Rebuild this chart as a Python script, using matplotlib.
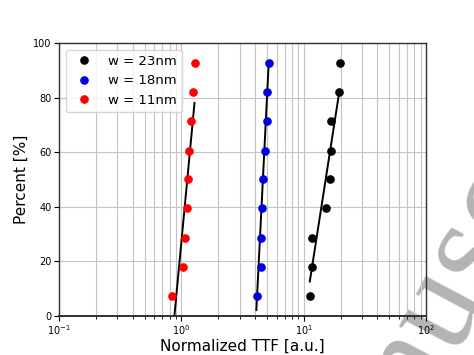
import matplotlib
matplotlib.use("Agg")
import matplotlib.pyplot as plt

# cumulative failure percent (median ranks), same for all widths
percent = [7.4, 18.1, 28.7, 39.4, 50.0, 60.6, 71.3, 81.9, 92.6]

# normalized time-to-failure
ttf_23 = [11.2, 11.6, 11.6, 15.1, 16.3, 16.6, 16.6, 19.5, 19.7]
ttf_18 = [4.16, 4.45, 4.49, 4.54, 4.62, 4.86, 4.98, 4.98, 5.17]
ttf_11 = [0.84, 1.03, 1.08, 1.11, 1.13, 1.16, 1.20, 1.24, 1.28]

# end points of the fitted lines
fit_23_x = [11.2, 19.5]
fit_23_y = [12.6, 82.0]
fit_18_x = [4.10, 5.17]
fit_18_y = [2.2, 92.6]
fit_11_x = [0.877, 1.28]
fit_11_y = [0.0, 78.0]

fig = plt.figure(figsize=(4.74, 3.55), dpi=100)
ax = fig.add_axes([0.1245, 0.110, 0.7745, 0.769])
ax.patch.set_alpha(0)

ax.plot(fit_23_x, fit_23_y, color="black", lw=1.4)
ax.plot(fit_18_x, fit_18_y, color="black", lw=1.4)
ax.plot(fit_11_x, fit_11_y, color="black", lw=1.4)

ax.plot(ttf_23, percent, "o", color="black", ms=5.2, label="w = 23nm")
ax.plot(ttf_18, percent, "o", color="#0000e0", ms=5.2, label="w = 18nm")
ax.plot(ttf_11, percent, "o", color="red", ms=5.2, label="w = 11nm")

ax.set_xscale("log")
ax.set_xlim(0.1, 100)
ax.set_ylim(0, 100)
ax.set_yticks([0, 20, 40, 60, 80, 100])
ax.tick_params(labelsize=7, pad=2)
ax.tick_params(which="minor", length=2)
ax.grid(which="both", color="#c4c4c4", lw=0.8)
ax.set_axisbelow(True)
for sp in ax.spines.values():
    sp.set_color("#303030")
    sp.set_linewidth(1.0)
ax.spines["bottom"].set_linewidth(1.4)
ax.set_xlabel("Normalized TTF [a.u.]", fontsize=11, labelpad=1)
ax.set_ylabel("Percent [%]", fontsize=11, labelpad=3)
ax.legend(loc="upper left", fontsize=9.5, numpoints=1)

# grey watermark fragment in the lower right corner, drawn under the axes
fig.text(0.955, 0.19, "nusc", fontsize=100, family="Liberation Serif",
         color="#b4b4b4", rotation=62, ha="center", va="center", zorder=-1)

fig.savefig("out.png", dpi=100)
